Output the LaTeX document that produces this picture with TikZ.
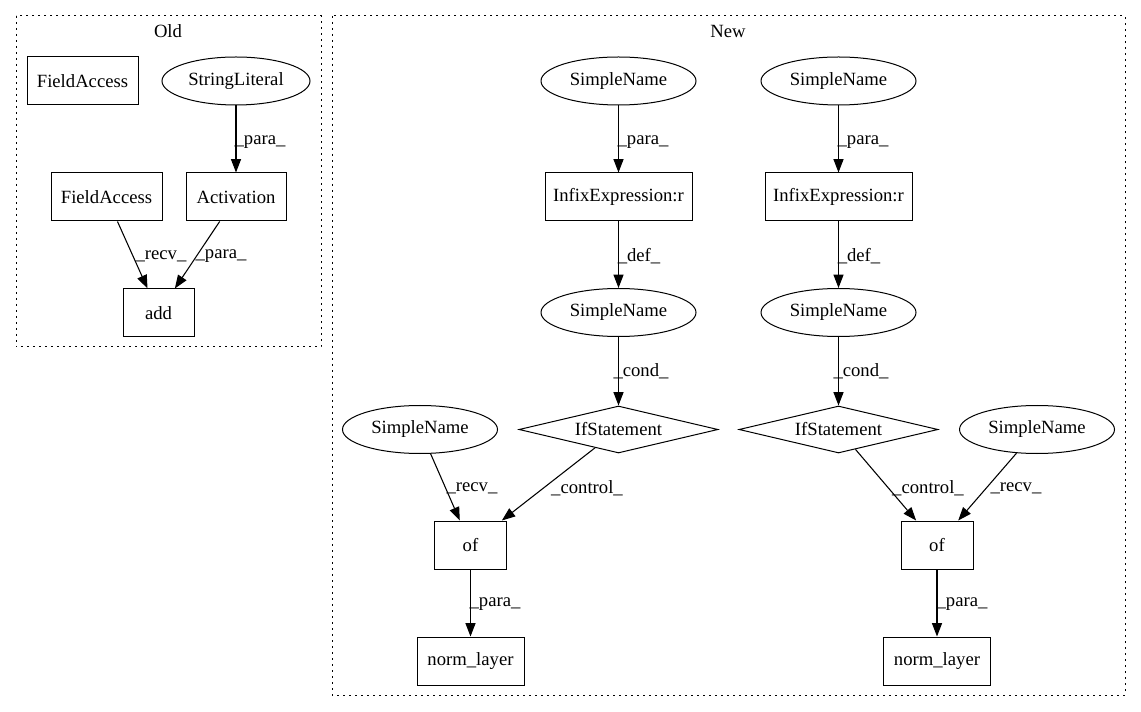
\documentclass[tikz,border=0pt]{standalone}
\usepackage{fontspec}
\setmainfont{Liberation Serif}
\usetikzlibrary{shapes.geometric,arrows.meta}
\begin{document}
\begin{tikzpicture}[x=0.75pt,y=-0.75pt,
  font=\fontsize{14}{16}\selectfont,
  every node/.style={inner sep=0pt, line width=0.75pt},
  box/.style={draw, rectangle, minimum width=#1, minimum height=36pt},
  oval/.style={draw, ellipse, minimum width=#1, minimum height=36pt},
  cond/.style={draw, diamond, shape aspect=4.2, minimum width=149.25pt, minimum height=35.25pt},
  conn/.style={draw, line width=0.8pt, arrows={-Triangle[length=10pt,width=7.5pt]}},
  lbl/.style={anchor=center},
  cluster/.style={draw, line width=0.75pt, dash pattern=on 1.2pt off 3.3pt}
]
\useasboundingbox (0,0) rectangle (1141,712);

% clusters
\draw[cluster] (16,16) rectangle (321,347);
\node (oldlbl) at (168,31) {Old};
\draw[cluster] (332,16) rectangle (1125,695);
\node (newlbl) at (728,31) {New};

% Old
\node[box=83.25pt] (fa1) at (82.5,81) {FieldAccess};
\node[oval=111pt] (sl) at (236,81) {StringLiteral};
\node[box=75pt] (act) at (236,197) {Activation};
\node[box=83.25pt] (fa2) at (106.5,197) {FieldAccess};
\node[box=53.25pt] (add) at (158.5,313) {add};

\draw[conn] (sl) -- (act);
\draw[conn] (fa2) -- (add);
\draw[conn] (act) -- (add);
\node[lbl] (l1) at (260,142) {\_para\_};
\node[lbl] (l2) at (161,256) {\_recv\_};
\node[lbl] (l3) at (221,256) {\_para\_};

% New left
\node[oval=116.25pt] (sn1) at (618.5,81) {SimpleName};
\node[box=110.25pt] (ie1) at (618.5,197) {InfixExpression:r};
\node[oval=116.25pt] (sn2) at (618.5,312.5) {SimpleName};
\node[cond] (if1) at (618.5,429.5) {IfStatement};
\node[oval=116.25pt] (sn3) at (420,429.5) {SimpleName};
\node[box=54pt] (of1) at (470.5,545) {of};
\node[box=80.25pt] (nl1) at (470.5,661) {norm\_layer};

\draw[conn] (sn1) -- (ie1);
\draw[conn] (ie1) -- (sn2);
\draw[conn] (sn2) -- (if1);
\draw[conn] (sn3) -- (of1);
\draw[conn] (if1) -- (of1);
\draw[conn] (of1) -- (nl1);
\node[lbl] (l4) at (643,142) {\_para\_};
\node[lbl] (l5) at (639,256) {\_def\_};
\node[lbl] (l6) at (641,371) {\_cond\_};
\node[lbl] (l7) at (472,488) {\_recv\_};
\node[lbl] (l8) at (587,488) {\_control\_};
\node[lbl] (l9) at (495,604) {\_para\_};

% New right
\node[oval=116.25pt] (sn4) at (838.5,81) {SimpleName};
\node[box=110.25pt] (ie2) at (838.5,197) {InfixExpression:r};
\node[oval=116.25pt] (sn5) at (838.5,312.5) {SimpleName};
\node[cond] (if2) at (838.5,429.5) {IfStatement};
\node[oval=116.25pt] (sn6) at (1037,429.5) {SimpleName};
\node[box=54pt] (of2) at (937,545) {of};
\node[box=80.25pt] (nl2) at (937,661) {norm\_layer};

\draw[conn] (sn4) -- (ie2);
\draw[conn] (ie2) -- (sn5);
\draw[conn] (sn5) -- (if2);
\draw[conn] (if2) -- (of2);
\draw[conn] (sn6) -- (of2);
\draw[conn] (of2) -- (nl2);
\node[lbl] (l10) at (863,142) {\_para\_};
\node[lbl] (l11) at (859,256) {\_def\_};
\node[lbl] (l12) at (861,371) {\_cond\_};
\node[lbl] (l13) at (928,488) {\_control\_};
\node[lbl] (l14) at (1016,488) {\_recv\_};
\node[lbl] (l15) at (962,604) {\_para\_};
\end{tikzpicture}
\end{document}
